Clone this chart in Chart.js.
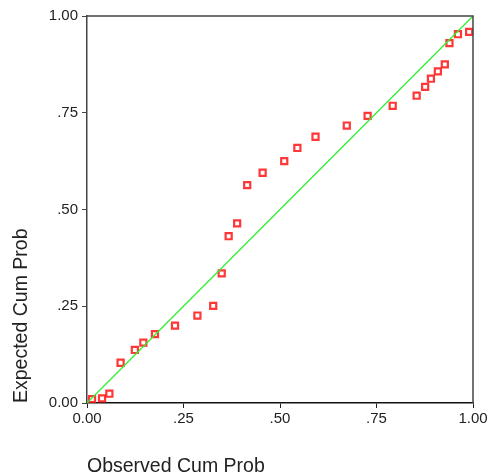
<!DOCTYPE html>
<html>
<head>
<meta charset="utf-8">
<script src="https://cdn.jsdelivr.net/npm/chart.js@4/dist/chart.umd.min.js"></script>
<style>
  html, body { margin: 0; padding: 0; background: #fff; }
</style>
</head>
<body>
<canvas id="ppChart" width="491" height="476"></canvas>
<script>
    // observed vs expected cumulative probability
    const observed = [0.013, 0.039, 0.058, 0.087, 0.124, 0.146, 0.176, 0.228, 0.286, 0.327,
                      0.349, 0.367, 0.389, 0.415, 0.455, 0.511, 0.545, 0.592, 0.673, 0.727,
                      0.792, 0.854, 0.876, 0.891, 0.909, 0.927, 0.939, 0.961, 0.990];
    const expected = [0.010, 0.012, 0.024, 0.104, 0.137, 0.156, 0.178, 0.200, 0.226, 0.251,
                      0.335, 0.431, 0.464, 0.563, 0.595, 0.625, 0.659, 0.688, 0.717, 0.742,
                      0.768, 0.794, 0.817, 0.838, 0.857, 0.875, 0.930, 0.953, 0.959];
    const refLine = [0, 1];
    const tickValues = [0, 0.25, 0.5, 0.75, 1];
    const tickLabels = ['0.00', '.25', '.50', '.75', '1.00'];

    const points = observed.map((v, i) => ({x: v, y: expected[i]}));

    const frame = {
        id: 'frame',
        afterDraw(chart) {
            const {ctx, chartArea: a} = chart;
            ctx.save();
            ctx.strokeStyle = '#444';
            ctx.lineWidth = 1.5;
            ctx.beginPath();
            ctx.moveTo(a.left, a.top);
            ctx.lineTo(a.right, a.top);
            ctx.lineTo(a.right, a.bottom);
            ctx.stroke();
            ctx.restore();
        }
    };

    const setTicks = scale => { scale.ticks = tickValues.map(v => ({value: v})); };
    const tickFont = {family: 'Liberation Sans, Arial, sans-serif', size: 15};
    const titleFont = {family: 'Liberation Sans, Arial, sans-serif', size: 19.5, lineHeight: 0.92};

    const ctx = document.getElementById('ppChart').getContext('2d');
    new Chart(ctx, {
        type: 'scatter',
        data: {
            datasets: [{
                type: 'line',
                data: refLine.map(v => ({x: v, y: v})),
                borderColor: '#33ee33',
                borderWidth: 1.3,
                pointRadius: 0,
                fill: false
            }, {
                data: points,
                pointStyle: 'rect',
                pointRadius: 4.3,
                pointBorderWidth: 2.2,
                pointBorderColor: 'rgba(255,20,20,0.85)',
                pointBackgroundColor: 'rgba(255,255,255,0)'
            }]
        },
        plugins: [frame],
        options: {
            responsive: false,
            animation: false,
            layout: {padding: {top: 16, right: 18, left: 0, bottom: 0}},
            plugins: {legend: {display: false}, tooltip: {enabled: false}},
            scales: {
                x: {
                    type: 'linear', min: 0, max: 1,
                    afterBuildTicks: setTicks,
                    afterFit: s => { s.height = 73; },
                    grid: {drawOnChartArea: false, tickLength: 5, color: '#222'},
                    border: {color: '#111', width: 1.5},
                    ticks: {
                        color: '#222', font: tickFont, padding: 2, maxRotation: 0,
                        callback: v => tickLabels[tickValues.indexOf(v)]
                    },
                    title: {
                        display: true, text: 'Observed Cum Prob', align: 'start',
                        color: '#222', font: titleFont, padding: {top: 0, bottom: 0}
                    }
                },
                y: {
                    type: 'linear', min: 0, max: 1,
                    afterBuildTicks: setTicks,
                    afterFit: s => { s.width = 87; },
                    grid: {drawOnChartArea: false, tickLength: 5, color: '#444'},
                    border: {color: '#444', width: 1.5},
                    ticks: {
                        color: '#222', font: tickFont, padding: 4,
                        callback: v => tickLabels[tickValues.indexOf(v)]
                    },
                    title: {
                        display: true, text: 'Expected Cum Prob', align: 'start',
                        color: '#222', font: titleFont, padding: {top: 13, bottom: 0}
                    }
                }
            }
        }
    });
</script>
</body>
</html>
